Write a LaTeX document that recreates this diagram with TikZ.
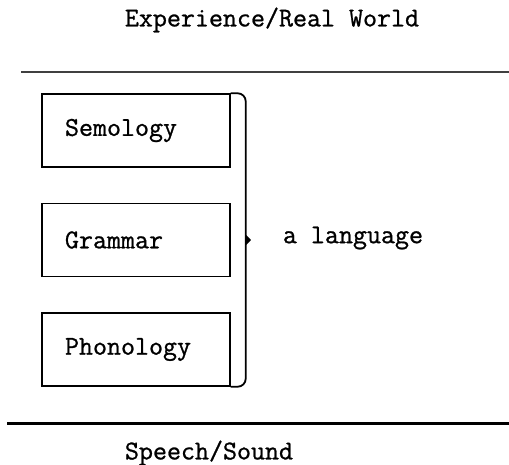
\documentclass[tikz,border=0pt]{standalone}
\usepackage{fontspec}
\setmonofont[FakeBold=0.9]{Latin Modern Mono}
\usetikzlibrary{arrows.meta}

\tikzset{
    level/.style={draw, line width=0.7pt, minimum height=36.5pt, text width=71pt,
                  inner xsep=11.5pt, inner ysep=0pt, align=left, font=\ttfamily\fontsize{13.6}{15}\selectfont},
    label/.style={font=\ttfamily\fontsize{13.6}{15}\selectfont, inner sep=0pt}
}

\begin{document}
\begin{tikzpicture}[x=0.5pt, y=-0.5pt]
    \useasboundingbox (0,0) rectangle (509,465);

    % Experience on top
    \node[label] (exp) at (272,20) {Experience/Real World};
    \draw[line width=1pt, black!75] (21,72) -- (509,72);

    % the three strata
    \node[level] (sem) at (136,130.5) {Semology};
    \node[level] (gram) at (136,240) {Grammar};
    \node[level] (phon) at (136,349.5) {Phonology};

    % bracket to the language
    \draw[line width=0.9pt, rounded corners=4pt] (sem.north east) -- ++(15,0) |- (phon.south east);
    \coordinate (brk) at (245,240);
    \node[label] (lang) at (353,238) {a language};
    \draw[line width=0.9pt, -{Triangle[length=3pt, width=6pt]}] (brk) -- ++(6,0);

    % Speech at the bottom
    \draw[line width=1.5pt] (7,423) -- (509,423);
    \node[label] (sound) at (209,453) {Speech/Sound};
\end{tikzpicture}
\end{document}
